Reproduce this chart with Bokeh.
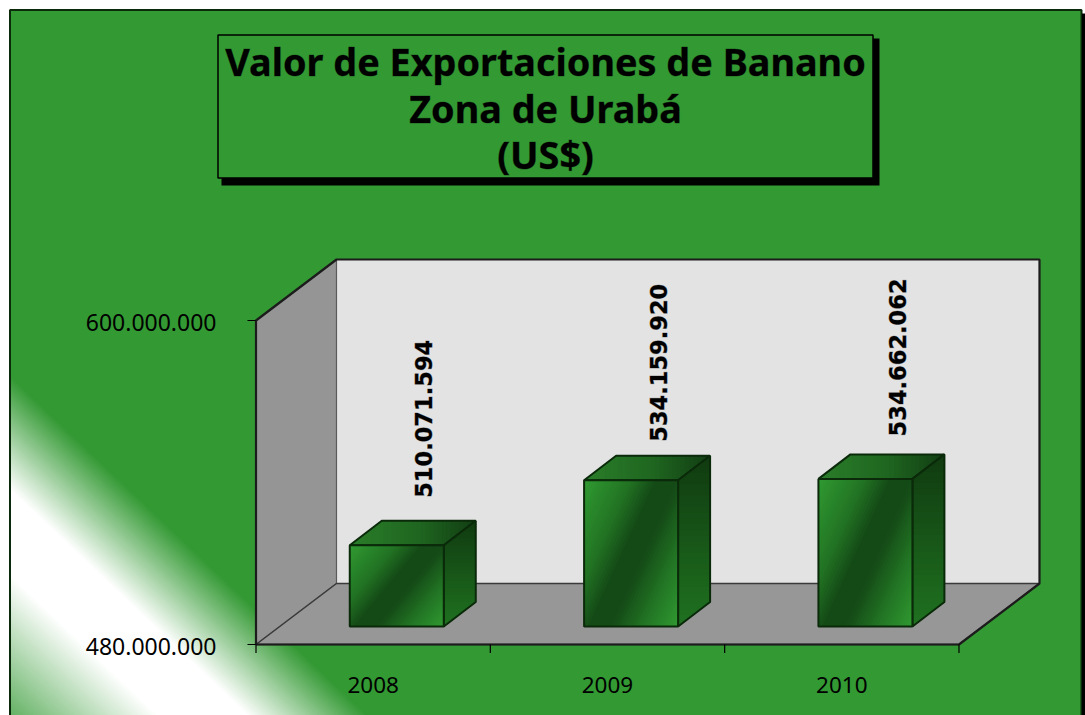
from bokeh.plotting import figure
from bokeh.embed import file_html
from bokeh.resources import INLINE
from bokeh.core.properties import value

# ---- data ----
categories = ["2008", "2009", "2010"]
export_values = [510071594, 534159920, 534662062]
value_labels = ["510.071.594", "534.159.920", "534.662.062"]
axis_ticks = [480000000, 600000000]
axis_tick_labels = ["480.000.000", "600.000.000"]
title_lines = ["Valor de Exportaciones de Banano", "Zona de Urabá", "(US$)"]

# ---- layout (page pixels) ----
W, H = 1085, 715
OX, OY = 0, 0
PX_PER_UNIT = 2.7e-6
BASE_Y = 644.0
SLOT = 234.33
AX_X = 255.5
y_top = axis_ticks[0] + (BASE_Y - OY) / PX_PER_UNIT
y_bot = y_top - H / PX_PER_UNIT
x_left = (OX - AX_X) / SLOT
x_right = x_left + W / SLOT

p = figure(width=W, height=H, x_range=(x_left, x_right), y_range=(y_bot, y_top),
           x_axis_type=None, y_axis_type=None, toolbar_location=None,
           output_backend="svg", min_border=0, outline_line_color=None,
           background_fill_color="white", border_fill_color="white")

def X(px):  return (px - AX_X) / SLOT
def Y(py):  return axis_ticks[0] + (BASE_Y - py) / PX_PER_UNIT
def screen(pts):
    return [X(a) for a, b in pts], [Y(b) for a, b in pts]
def sx(i_x): return AX_X + i_x * SLOT
def sy(v):   return BASE_Y - (v - axis_ticks[0]) * PX_PER_UNIT

def clip(poly, a, b, t0):
    """keep the part of poly where a*x+b*y >= t0"""
    out = []
    for k in range(len(poly)):
        p1, p2 = poly[k], poly[(k + 1) % len(poly)]
        d1 = a * p1[0] + b * p1[1] - t0
        d2 = a * p2[0] + b * p2[1] - t0
        if d1 >= 0:
            out.append(p1)
        if (d1 >= 0) != (d2 >= 0):
            r = d1 / (d1 - d2)
            out.append((p1[0] + r * (p2[0] - p1[0]), p1[1] + r * (p2[1] - p1[1])))
    return out

def mix(stops, t):
    for (t0, c0), (t1, c1) in zip(stops, stops[1:]):
        if t <= t1:
            r = 0 if t1 == t0 else max(0.0, (t - t0) / (t1 - t0))
            return tuple(round(c0[k] + r * (c1[k] - c0[k])) for k in range(3))
    return stops[-1][1]

def gradient(poly, a, b, stops, n=40, line=None, line_w=2):
    """painter's-order gradient: each layer overpaints the rest of the polygon"""
    ts = [a * x + b * y for x, y in poly]
    lo, hi = min(ts), max(ts)
    xs, ys, cols = [], [], []
    for k in range(n):
        t = lo + (hi - lo) * k / n
        part = clip(poly, a, b, t)
        if len(part) < 3:
            continue
        u, v = screen(part)
        xs.append(u); ys.append(v)
        c = mix(stops, (t - lo) / (hi - lo) + 0.5 / n)
        cols.append("#%02x%02x%02x" % c)
    p.patches(xs, ys, fill_color=cols, line_color=None)
    if line:
        u, v = screen(poly)
        p.patch(u, v, fill_color=None, line_color=line, line_width=line_w)

GREEN = (0x33, 0x99, 0x33)
WHITE = (255, 255, 255)
SOFT_OUTLINE = "rgba(0,0,0,0.3)"

# ---- panel background with the diagonal white band ----
FR_L, FR_T, FR_R, FR_B = 10, 10, 1081, 716
panel = [(FR_L, FR_T), (FR_R, FR_T), (FR_R, FR_B), (FR_L, FR_B)]
u, v = screen(panel)
p.patch(u, v, fill_color="#339933", line_color=None)
# t = y - 0.95 x
band = clip(panel, -0.95, 1.0, 366)
ts = [b - 0.95 * a for a, b in band]
lo, hi = min(ts), max(ts)
band_stops = [(0.0, GREEN), ((480 - lo) / (hi - lo), WHITE),
              ((565 - lo) / (hi - lo), WHITE), ((750 - lo) / (hi - lo), GREEN), (1.0, GREEN)]
gradient(band, -0.95, 1.0, band_stops, n=170)

# panel border and shadow
u, v = screen([(FR_L - 0.5, FR_B), (FR_L - 0.5, FR_T - 0.5), (FR_R, FR_T - 0.5), (FR_R, FR_B)])
p.line(u, v, line_color="#0b2a0b", line_width=2)
u, v = screen([(1083.5, 13), (1083.5, FR_B)])
p.line(u, v, line_color="black", line_width=4)

# ---- title box ----
BX0, BY0, BX1, BY1 = 217.5, 34.5, 872.5, 177.5
u, v = screen([(221, 38), (879, 38), (879, 185), (221, 185)])
p.patch(u, v, fill_color="black", line_color=None)
u, v = screen([(BX0, BY0), (BX1, BY0), (BX1, BY1), (BX0, BY1)])
p.patch(u, v, fill_color="#339933", line_color="black", line_width=1.5)
p.text([X(545)] * 3, [Y(61), Y(107.5), Y(154)], text=title_lines,
       text_font=value("Noto Sans"), text_font_style="bold", text_font_size="37.8px",
       text_color="black", text_outline_color=SOFT_OUTLINE, text_align="center", text_baseline="middle")

# ---- pseudo-3D box ----
DX, DY = 80.5, 61.0          # depth of the whole box, pixels
LEFT = AX_X
RIGHT = sx(len(categories))
TOP = sy(axis_ticks[1])
FLOOR = sy(axis_ticks[0])
EDGE = "#1c1c1c"
u, v = screen([(LEFT + DX, TOP - DY), (RIGHT + DX, TOP - DY), (RIGHT + DX, FLOOR - DY), (LEFT + DX, FLOOR - DY)])
p.patch(u, v, fill_color="#e3e3e3", line_color=None)
u, v = screen([(LEFT, TOP), (LEFT + DX, TOP - DY), (LEFT + DX, FLOOR - DY), (LEFT, FLOOR)])
p.patch(u, v, fill_color="#959595", line_color="#5a5a5a", line_width=1.2)
u, v = screen([(LEFT, FLOOR), (RIGHT, FLOOR), (RIGHT + DX, FLOOR - DY), (LEFT + DX, FLOOR - DY)])
p.patch(u, v, fill_color="#979797", line_color="#3a3a3a", line_width=1.5)
u, v = screen([(LEFT, FLOOR), (LEFT, TOP), (LEFT + DX, TOP - DY), (RIGHT + DX, TOP - DY),
               (RIGHT + DX, FLOOR - DY), (RIGHT, FLOOR), (LEFT, FLOOR)])
p.line(u, v, line_color=EDGE, line_width=2.2)

# ---- bars ----
BAR_W = 94.0
FRONT_DX, FRONT_DY = 23.6, 18.0
BACK_DX, BACK_DY = 32.0, 24.5
BAR_EDGE = "#0a2a0a"
BRIGHT = (0x30, 0x9a, 0x31)
MID = (0x22, 0x74, 0x24)
DARK = (0x14, 0x4a, 0x16)
for i, val in enumerate(export_values):
    cx = sx(i + 0.5) + FRONT_DX
    x0, x1 = cx - BAR_W / 2, cx + BAR_W / 2
    y0 = sy(axis_ticks[0]) - FRONT_DY
    y1 = sy(val) - FRONT_DY
    # top face
    gradient([(x0, y1), (x1, y1), (x1 + BACK_DX, y1 - BACK_DY), (x0 + BACK_DX, y1 - BACK_DY)],
             1, 0, [(0, (0x2a, 0x7d, 0x2a)), (0.55, (0x1f, 0x66, 0x20)), (1, (0x12, 0x3d, 0x12))], n=30,
             line=BAR_EDGE)
    # side face
    gradient([(x1, y1), (x1 + BACK_DX, y1 - BACK_DY), (x1 + BACK_DX, y0 - BACK_DY), (x1, y0)],
             0, 1, [(0, (0x10, 0x3a, 0x10)), (1, (0x1f, 0x72, 0x20))], n=30, line=BAR_EDGE)
    # front face: the dark band follows the face's own diagonal
    gradient([(x0, y1), (x1, y1), (x1, y0), (x0, y0)], 1.4 * (y0 - y1), BAR_W,
             [(0, BRIGHT), (0.28, MID), (0.45, DARK), (0.58, DARK), (0.78, MID), (1, BRIGHT)], n=50,
             line=BAR_EDGE)

# ---- value labels ----
label_dx = [26.5, 27.5, 32.5]
label_dy = [-23, -14, -18]
for i, val in enumerate(export_values):
    cx = sx(i + 0.5) + FRONT_DX
    p.text([X(cx + label_dx[i])], [Y(sy(val) - FRONT_DY - BACK_DY + label_dy[i])], text=[value_labels[i]],
           angle=1.5708, text_font=value("DejaVu Sans"), text_font_style="bold",
           text_font_size="22.5px", text_color="black", text_outline_color=SOFT_OUTLINE,
           text_align="left", text_baseline="middle")

# ---- axes drawn on the front plane ----
TICK = 8.5
for t in axis_ticks:
    u, v = screen([(LEFT - TICK, sy(t)), (LEFT, sy(t))])
    p.line(u, v, line_color="black", line_width=1.2)
for i in range(len(categories) + 1):
    u, v = screen([(sx(i), FLOOR), (sx(i), FLOOR + TICK)])
    p.line(u, v, line_color="black", line_width=1.2)
p.text([X(216)] * 2, [t - 1.5 / PX_PER_UNIT for t in axis_ticks], text=axis_tick_labels,
       text_font=value("Noto Sans"), text_font_size="23px", text_color="black",
       text_align="right", text_baseline="middle")
p.text([i + 0.5 for i in range(3)], [Y(684)] * 3, text=categories,
       text_font=value("Noto Sans"), text_font_size="22.5px", text_color="black",
       text_align="center", text_baseline="middle")

open("out.html", "w").write(file_html(p, INLINE))
